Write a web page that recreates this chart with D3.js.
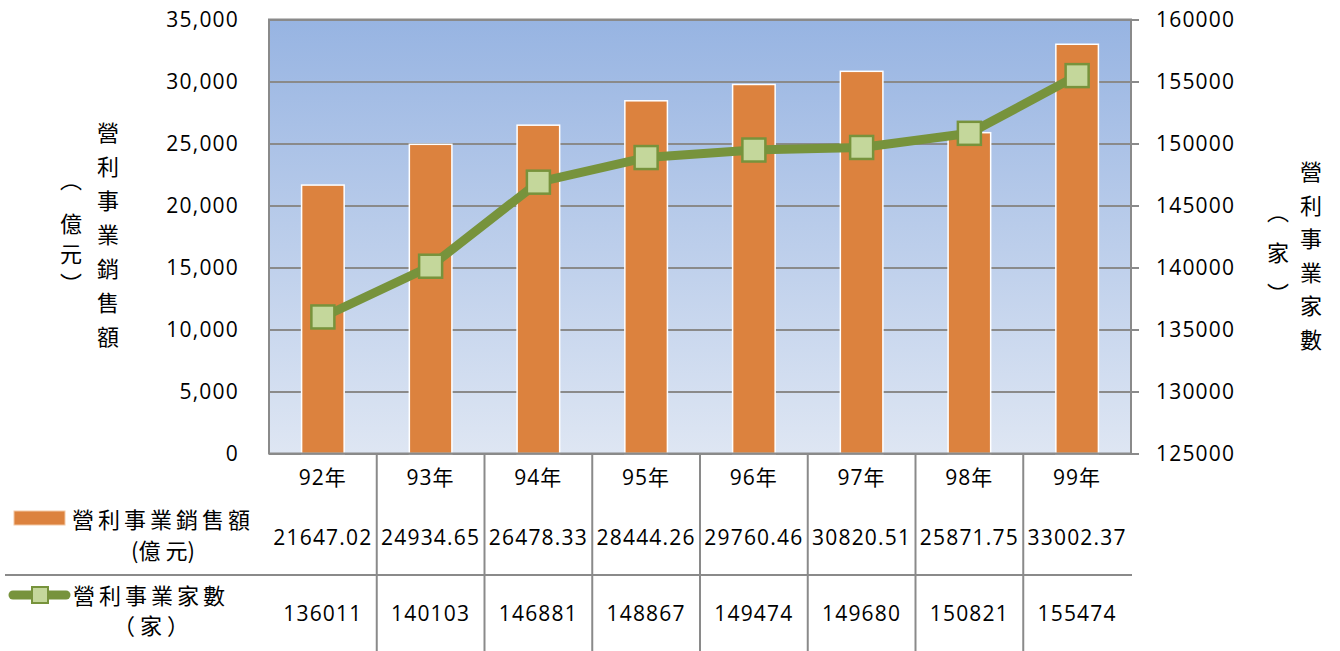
<!DOCTYPE html>
<html>
<head>
<meta charset="utf-8">
<script src="https://cdn.jsdelivr.net/npm/d3@7"></script>
<style>
  html, body { margin: 0; padding: 0; background: #fff; }
  svg { display: block; }
  .num { font-family: "Open Sans", "Noto Sans CJK TC", sans-serif; fill: #000; }
  .cjk { font-family: "Noto Sans CJK TC", sans-serif; fill: #000; }
</style>
</head>
<body>
<svg id="chart" width="1340" height="651"></svg>
<script>
const categories = ["92年", "93年", "94年", "95年", "96年", "97年", "98年", "99年"];
const salesValues = [21647.02, 24934.65, 26478.33, 28444.26, 29760.46, 30820.51, 25871.75, 33002.37];
const countValues = [136011, 140103, 146881, 148867, 149474, 149680, 150821, 155474];
const leftTicks = [0, 5000, 10000, 15000, 20000, 25000, 30000, 35000];
const rightTicks = [125000, 130000, 135000, 140000, 145000, 150000, 155000, 160000];
const salesLabel = "營利事業銷售額";
const salesUnit = "(億 元)";
const countLabel = "營利事業家數";
const countUnit = "（ 家 ）";
const leftTitle = ["營", "利", "事", "業", "銷", "售", "額"];
const leftUnit = ["︵", "億", "元", "︶"];
const rightTitle = ["營", "利", "事", "業", "家", "數"];
const rightUnit = ["︵", "家", "︶"];

const svg = d3.select("#chart");
const plot = { left: 269, right: 1131, top: 19.5, bottom: 453.5 };
const grid = "#8a8a8a";
const orange = "#dc823e";
const green = "#77933c";
const greenFill = "#c4d79b";

const x = d3.scaleBand().domain(categories).range([plot.left, plot.right]).padding(0);
const yL = d3.scaleLinear().domain([0, 35000]).range([plot.bottom, plot.top]);
const yR = d3.scaleLinear().domain([125000, 160000]).range([plot.bottom, plot.top]);

// background gradient
const defs = svg.append("defs");
const grad = defs.append("linearGradient").attr("id", "bg").attr("x1", 0).attr("y1", 0).attr("x2", 0).attr("y2", 1);
grad.append("stop").attr("offset", "0%").attr("stop-color", "#97b4e2");
grad.append("stop").attr("offset", "100%").attr("stop-color", "#dee6f3");

svg.append("rect")
  .attr("x", plot.left).attr("y", plot.top)
  .attr("width", plot.right - plot.left).attr("height", plot.bottom - plot.top)
  .attr("fill", "url(#bg)");

// gridlines
svg.append("g")
  .attr("transform", `translate(${plot.left},0)`)
  .call(d3.axisLeft(yL).tickValues(leftTicks).tickSize(-(plot.right - plot.left)).tickFormat(""))
  .call(g => g.select(".domain").remove())
  .call(g => g.selectAll("line").attr("stroke", grid).attr("stroke-width", 2));

// bars
const bw = x.bandwidth() * 0.395;
svg.append("g").selectAll("rect").data(salesValues).join("rect")
  .attr("x", (d, i) => x(categories[i]) + x.bandwidth() / 2 - bw / 2)
  .attr("y", d => yL(d))
  .attr("width", bw)
  .attr("height", d => plot.bottom - yL(d))
  .attr("fill", orange)
  .attr("stroke", "#ffffff")
  .attr("stroke-width", 1.5);

// plot border
svg.append("rect")
  .attr("x", plot.left).attr("y", plot.top)
  .attr("width", plot.right - plot.left).attr("height", plot.bottom - plot.top)
  .attr("fill", "none").attr("stroke", grid).attr("stroke-width", 2);

// left axis labels
svg.append("g")
  .attr("transform", `translate(${plot.left},0)`)
  .call(d3.axisLeft(yL).tickValues(leftTicks).tickSize(0).tickPadding(30).tickFormat(d3.format(",")))
  .call(g => g.select(".domain").remove())
  .call(g => g.selectAll("text").attr("class", "num").attr("font-size", 21).attr("letter-spacing", 1.2).attr("fill", "#000"));

// right axis
svg.append("g")
  .attr("transform", `translate(${plot.right},0)`)
  .call(d3.axisRight(yR).tickValues(rightTicks).tickSize(8).tickPadding(17).tickFormat(d3.format("d")))
  .call(g => g.select(".domain").remove())
  .call(g => g.selectAll("line").attr("stroke", grid).attr("stroke-width", 2))
  .call(g => g.selectAll("text").attr("class", "num").attr("font-size", 21).attr("letter-spacing", 1.2).attr("fill", "#000"));

// line series
const line = d3.line()
  .x((d, i) => x(categories[i]) + x.bandwidth() / 2)
  .y(d => yR(d));
svg.append("path").datum(countValues)
  .attr("d", line).attr("fill", "none")
  .attr("stroke", green).attr("stroke-width", 9).attr("stroke-linejoin", "round");

const ms = 23;
svg.append("g").selectAll("rect").data(countValues).join("rect")
  .attr("x", (d, i) => x(categories[i]) + x.bandwidth() / 2 - ms / 2)
  .attr("y", d => yR(d) - ms / 2)
  .attr("width", ms).attr("height", ms)
  .attr("fill", greenFill).attr("stroke", green).attr("stroke-width", 2.5);

// data table
const tableBottom = 651;
svg.append("g").selectAll("line").data(categories.slice(1)).join("line")
  .attr("x1", d => x(d)).attr("x2", d => x(d))
  .attr("y1", plot.bottom).attr("y2", tableBottom)
  .attr("stroke", grid).attr("stroke-width", 2);
svg.append("line")
  .attr("x1", 5).attr("x2", plot.right + 1)
  .attr("y1", 575).attr("y2", 575)
  .attr("stroke", grid).attr("stroke-width", 2);

// category labels
svg.append("g").selectAll("text").data(categories).join("text")
  .attr("class", "num")
  .attr("x", d => x(d) + x.bandwidth() / 2)
  .attr("y", 478).attr("dy", "0.35em")
  .attr("text-anchor", "middle").attr("font-size", 21).attr("letter-spacing", 1)
  .text(d => d);

// values
svg.append("g").selectAll("text").data(salesValues).join("text")
  .attr("class", "num")
  .attr("x", (d, i) => x(categories[i]) + x.bandwidth() / 2)
  .attr("y", 538).attr("dy", "0.35em")
  .attr("text-anchor", "middle").attr("font-size", 21).attr("letter-spacing", 1.2)
  .text(d => d3.format(".2f")(d));
svg.append("g").selectAll("text").data(countValues).join("text")
  .attr("class", "num")
  .attr("x", (d, i) => x(categories[i]) + x.bandwidth() / 2)
  .attr("y", 614).attr("dy", "0.35em")
  .attr("text-anchor", "middle").attr("font-size", 21).attr("letter-spacing", 1.2)
  .text(d => d);

// legend keys
svg.append("rect").attr("x", 14).attr("y", 511).attr("width", 51).attr("height", 14)
  .attr("fill", orange).attr("stroke", "#f3c8a4").attr("stroke-width", 1);
svg.append("line").attr("x1", 13).attr("x2", 66).attr("y1", 595).attr("y2", 595)
  .attr("stroke", green).attr("stroke-width", 9).attr("stroke-linecap", "round");
svg.append("rect").attr("x", 32).attr("y", 587).attr("width", 16).attr("height", 16)
  .attr("fill", greenFill).attr("stroke", green).attr("stroke-width", 2);

svg.append("text").attr("class", "cjk").attr("x", 72).attr("y", 520).attr("dy", "0.36em")
  .attr("font-size", 22).attr("letter-spacing", 4).text(salesLabel);
svg.append("text").attr("class", "cjk").attr("x", 163).attr("y", 551).attr("dy", "0.36em")
  .attr("text-anchor", "middle").attr("font-size", 22).text(salesUnit);
svg.append("text").attr("class", "cjk").attr("x", 73).attr("y", 596).attr("dy", "0.36em")
  .attr("font-size", 22).attr("letter-spacing", 4).text(countLabel);
svg.append("text").attr("class", "cjk").attr("x", 151).attr("y", 626).attr("dy", "0.36em")
  .attr("text-anchor", "middle").attr("font-size", 22).text(countUnit);

// vertical axis titles
function vcol(chars, cx, ys) {
  svg.append("g").selectAll("text").data(chars).join("text")
    .attr("class", "cjk")
    .attr("x", cx).attr("y", (d, i) => ys[i]).attr("dy", "0.36em")
    .attr("text-anchor", "middle").attr("font-size", 22)
    .text(d => d);
}
vcol(leftTitle, 108, leftTitle.map((d, i) => 133 + i * 34));
vcol(leftUnit, 71, [180, 224, 254, 284]);
vcol(rightTitle, 1311, rightTitle.map((d, i) => 172 + i * 33.6));
vcol(rightUnit, 1278, [212, 253, 294]);
</script>
</body>
</html>
